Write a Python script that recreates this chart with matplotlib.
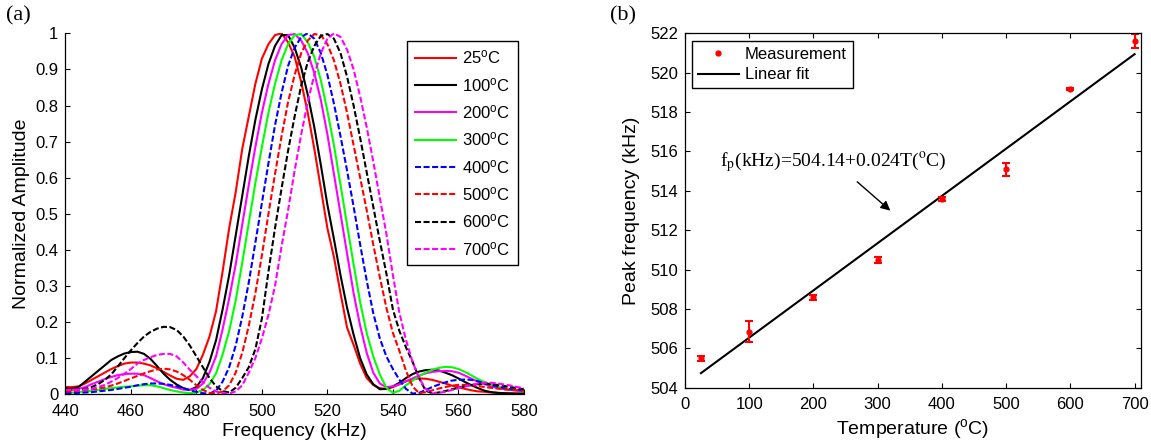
import numpy as np
import matplotlib
matplotlib.use("Agg")
import matplotlib.pyplot as plt
from matplotlib.lines import Line2D
from matplotlib.ticker import FuncFormatter

plt.rcParams['font.family'] = ['Liberation Sans', 'DejaVu Sans']
plt.rcParams['mathtext.fontset'] = 'custom'
plt.rcParams['mathtext.rm'] = 'Liberation Sans'
plt.rcParams['mathtext.it'] = 'Liberation Sans:italic'
plt.rcParams['mathtext.bf'] = 'Liberation Sans:bold'

# ---------------- (a) normalized spectra, sampled every 2 kHz ----------------
freq_khz = np.arange(440, 582, 2)

amp_25 = [0.020, 0.020, 0.022, 0.030, 0.040, 0.050, 0.060, 0.070, 0.078, 0.085,
          0.088, 0.088, 0.085, 0.080, 0.072, 0.062, 0.052, 0.043, 0.040, 0.050,
          0.070, 0.110, 0.160, 0.230, 0.340, 0.460, 0.560, 0.680, 0.770, 0.860,
          0.930, 0.970, 0.995, 1.000, 0.975, 0.935, 0.865, 0.780, 0.680, 0.570,
          0.460, 0.380, 0.280, 0.185, 0.137, 0.085, 0.045, 0.026, 0.017, 0.015,
          0.020, 0.028, 0.036, 0.042, 0.044, 0.043, 0.040, 0.035, 0.030, 0.024,
          0.020, 0.015, 0.011, 0.008, 0.007, 0.005, 0.004, 0.003, 0.003, 0.002,
          0.002]
amp_100 = [0.017, 0.015, 0.020, 0.035, 0.050, 0.065, 0.080, 0.095, 0.105, 0.113,
           0.117, 0.118, 0.112, 0.098, 0.078, 0.057, 0.040, 0.027, 0.017, 0.012,
           0.020, 0.045, 0.090, 0.150, 0.235, 0.330, 0.440, 0.550, 0.660, 0.760,
           0.845, 0.915, 0.965, 0.995, 0.995, 0.960, 0.905, 0.830, 0.740, 0.635,
           0.525, 0.430, 0.330, 0.240, 0.165, 0.100, 0.055, 0.028, 0.014, 0.015,
           0.022, 0.032, 0.045, 0.056, 0.063, 0.067, 0.068, 0.066, 0.060, 0.053,
           0.044, 0.034, 0.025, 0.017, 0.010, 0.006, 0.004, 0.003, 0.002, 0.002,
           0.002]
amp_200 = [0.012, 0.012, 0.015, 0.020, 0.028, 0.035, 0.042, 0.048, 0.053, 0.056,
           0.057, 0.057, 0.053, 0.045, 0.036, 0.028, 0.022, 0.018, 0.013, 0.012,
           0.015, 0.030, 0.060, 0.105, 0.180, 0.265, 0.360, 0.470, 0.580, 0.685,
           0.780, 0.860, 0.925, 0.970, 0.995, 0.998, 0.980, 0.945, 0.890, 0.815,
           0.720, 0.610, 0.500, 0.390, 0.280, 0.190, 0.115, 0.060, 0.030, 0.020,
           0.022, 0.028, 0.036, 0.044, 0.052, 0.058, 0.062, 0.064, 0.065, 0.064,
           0.060, 0.052, 0.043, 0.035, 0.028, 0.022, 0.017, 0.014, 0.012, 0.010,
           0.009]
amp_300 = [0.005, 0.005, 0.006, 0.008, 0.010, 0.012, 0.015, 0.017, 0.019, 0.021,
           0.022, 0.024, 0.025, 0.025, 0.022, 0.017, 0.012, 0.008, 0.005, 0.003,
           0.005, 0.012, 0.028, 0.058, 0.110, 0.175, 0.260, 0.365, 0.475, 0.585,
           0.685, 0.780, 0.860, 0.925, 0.970, 0.995, 0.998, 0.975, 0.935, 0.870,
           0.785, 0.690, 0.580, 0.470, 0.360, 0.255, 0.170, 0.105, 0.055, 0.018,
           0.004, 0.010, 0.025, 0.038, 0.050, 0.060, 0.068, 0.073, 0.076, 0.075,
           0.070, 0.062, 0.052, 0.042, 0.034, 0.027, 0.021, 0.017, 0.014, 0.012,
           0.010]
amp_400 = [0.003, 0.003, 0.004, 0.005, 0.006, 0.008, 0.010, 0.012, 0.015, 0.018,
           0.021, 0.025, 0.028, 0.030, 0.030, 0.029, 0.026, 0.022, 0.017, 0.011,
           0.007, 0.003, 0.002, 0.010, 0.035, 0.075, 0.135, 0.215, 0.310, 0.420,
           0.530, 0.640, 0.745, 0.835, 0.910, 0.960, 0.990, 1.000, 0.985, 0.945,
           0.885, 0.805, 0.715, 0.620, 0.520, 0.415, 0.315, 0.225, 0.155, 0.105,
           0.070, 0.040, 0.015, 0.002, 0.004, 0.012, 0.020, 0.027, 0.033, 0.038,
           0.040, 0.041, 0.040, 0.036, 0.031, 0.026, 0.021, 0.017, 0.014, 0.012,
           0.010]
amp_500 = [0.008, 0.008, 0.010, 0.012, 0.014, 0.016, 0.019, 0.024, 0.030, 0.037,
           0.044, 0.051, 0.058, 0.064, 0.069, 0.071, 0.069, 0.063, 0.053, 0.040,
           0.025, 0.012, 0.004, 0.002, 0.008, 0.025, 0.060, 0.115, 0.190, 0.280,
           0.385, 0.500, 0.610, 0.715, 0.810, 0.885, 0.945, 0.980, 0.998, 0.995,
           0.970, 0.925, 0.860, 0.780, 0.690, 0.600, 0.510, 0.415, 0.325, 0.240,
           0.170, 0.120, 0.065, 0.022, 0.003, 0.006, 0.011, 0.016, 0.020, 0.024,
           0.026, 0.026, 0.025, 0.023, 0.020, 0.018, 0.016, 0.014, 0.012, 0.011,
           0.010]
amp_600 = [0.012, 0.012, 0.013, 0.015, 0.020, 0.028, 0.040, 0.055, 0.077, 0.100,
           0.122, 0.142, 0.160, 0.173, 0.182, 0.187, 0.186, 0.178, 0.160, 0.135,
           0.105, 0.075, 0.045, 0.022, 0.009, 0.005, 0.018, 0.045, 0.075, 0.125,
           0.210, 0.340, 0.460, 0.570, 0.675, 0.770, 0.855, 0.920, 0.965, 0.993,
           0.998, 0.985, 0.945, 0.880, 0.800, 0.710, 0.615, 0.520, 0.425, 0.335,
           0.235, 0.175, 0.130, 0.090, 0.045, 0.010, 0.003, 0.005, 0.009, 0.014,
           0.018, 0.022, 0.026, 0.028, 0.029, 0.028, 0.026, 0.023, 0.020, 0.017,
           0.014]
amp_700 = [0.012, 0.012, 0.012, 0.013, 0.015, 0.020, 0.026, 0.035, 0.045, 0.057,
           0.070, 0.085, 0.095, 0.103, 0.109, 0.112, 0.112, 0.105, 0.088, 0.068,
           0.050, 0.033, 0.018, 0.008, 0.003, 0.002, 0.008, 0.025, 0.060, 0.100,
           0.155, 0.220, 0.300, 0.410, 0.510, 0.620, 0.720, 0.810, 0.885, 0.945,
           0.985, 1.000, 0.990, 0.955, 0.900, 0.825, 0.740, 0.645, 0.545, 0.445,
           0.330, 0.225, 0.150, 0.090, 0.045, 0.015, 0.002, 0.004, 0.007, 0.012,
           0.017, 0.022, 0.026, 0.030, 0.032, 0.032, 0.030, 0.027, 0.024, 0.020,
           0.017]

spectra = [amp_25, amp_100, amp_200, amp_300, amp_400, amp_500, amp_600, amp_700]
spectra_temps = [25, 100, 200, 300, 400, 500, 600, 700]
line_colors = ['#ff0000', '#000000', '#ff00ff', '#00ff00',
               '#0000ff', '#ff0000', '#000000', '#ff00ff']
line_styles = ['-', '-', '-', '-',
               (0, (2.9, 1.2)), (0, (2.9, 1.2)), (0, (2.9, 1.2)), (0, (2.9, 1.2))]

# ---------------- (b) peak frequency vs temperature ----------------
temps_c = [25, 100, 200, 300, 400, 500, 600, 700]
peak_khz = [505.5, 506.85, 508.6, 510.5, 513.6, 515.1, 519.15, 521.6]
peak_err = [0.13, 0.55, 0.13, 0.15, 0.10, 0.33, 0.05, 0.35]
fit_intercept = 504.14
fit_slope = 0.024

W, H = 1151, 445
fig = plt.figure(figsize=(W / 100, H / 100), dpi=100)

ax1 = fig.add_axes([65.4 / W, (H - 394.3) / H, 458.5 / W, 361 / H])
for amp, col, ls, t in zip(spectra, line_colors, line_styles, spectra_temps):
    ax1.plot(freq_khz, amp, color=col, linestyle=ls, lw=1.5,
             label=f'{t}$^{{\\rm o}}$C')
ax1.set_xlim(440, 580)
ax1.set_ylim(0, 1)
ax1.set_xticks(range(440, 581, 20))
ax1.set_yticks(np.round(np.arange(0, 1.01, 0.1), 1))
ax1.yaxis.set_major_formatter(FuncFormatter(lambda v, p: f'{v:g}'))
ax1.spines['top'].set_visible(False)
ax1.spines['right'].set_visible(False)
for s in ('left', 'bottom'):
    ax1.spines[s].set_linewidth(0.9)
ax1.tick_params(direction='in', length=3.5, width=0.8, labelsize=12)
ax1.tick_params(axis='x', pad=7)
ax1.tick_params(axis='y', pad=5)
ax1.set_xlabel('Frequency (kHz)', fontsize=14, labelpad=3)
ax1.set_ylabel('Normalized Amplitude', fontsize=14, labelpad=4)
leg1 = ax1.legend(loc='upper left', bbox_to_anchor=(0.7457, 0.9787),
                  frameon=True, fancybox=False, edgecolor='k', framealpha=1,
                  handlelength=2.5, handletextpad=0.35, labelspacing=0.56,
                  borderpad=0.45, borderaxespad=0, fontsize=12)
leg1.get_frame().set_linewidth(1.0)

ax2 = fig.add_axes([684.9 / W, (H - 387.7) / H, 456.1 / W, 354.4 / H])
t_line = np.array([temps_c[0], temps_c[-1]])
ax2.plot(t_line, fit_intercept + fit_slope * t_line, color='k', lw=1.5)
ax2.errorbar(temps_c, peak_khz, yerr=peak_err, fmt='o', color='#ff0000',
             ms=3.5, elinewidth=1.5, capsize=3, capthick=1.5)
ax2.set_xlim(0, 710)
ax2.set_ylim(504, 522)
ax2.set_xticks(range(0, 701, 100))
ax2.set_yticks(range(504, 523, 2))
for s in ax2.spines.values():
    s.set_linewidth(0.9)
ax2.tick_params(direction='in', length=3.5, width=0.8, labelsize=12,
                top=True, right=True)
ax2.tick_params(axis='x', pad=7)
ax2.tick_params(axis='y', pad=5)
ax2.set_xlabel('Temperature ($^{\\rm o}$C)', fontsize=14, labelpad=3)
ax2.set_ylabel('Peak frequency (kHz)', fontsize=14, labelpad=7)
handles = [Line2D([], [], ls='none', marker='o', color='#ff0000', ms=3.5),
           Line2D([], [], color='k', lw=1.5)]
leg2 = ax2.legend(handles, ['Measurement', 'Linear fit'], loc='upper left',
                  bbox_to_anchor=(0.0151, 0.979), frameon=True, fancybox=False,
                  edgecolor='k', framealpha=1, handlelength=2.5,
                  handletextpad=0.35, labelspacing=0.35, borderpad=0.35,
                  borderaxespad=0, fontsize=12)
leg2.get_frame().set_linewidth(1.0)

ax2.annotate('', xy=(323, 512.9), xytext=(265, 514.55),
             arrowprops=dict(arrowstyle='-|>', color='k', lw=1,
                             mutation_scale=14))
ax2.text(55, 515.2, 'f$_{\\rm p}$(kHz)=504.14+0.024T($^{\\rm o}$C)',
         fontfamily='Liberation Serif', math_fontfamily='stix', fontsize=14,
         va='baseline')

fig.text(6 / W, 1 - 6 / H, '(a)', fontfamily='Liberation Serif', fontsize=16,
         va='top', ha='left')
fig.text(610 / W, 1 - 6 / H, '(b)', fontfamily='Liberation Serif', fontsize=16,
         va='top', ha='left')

fig.savefig('out.png', dpi=100)
